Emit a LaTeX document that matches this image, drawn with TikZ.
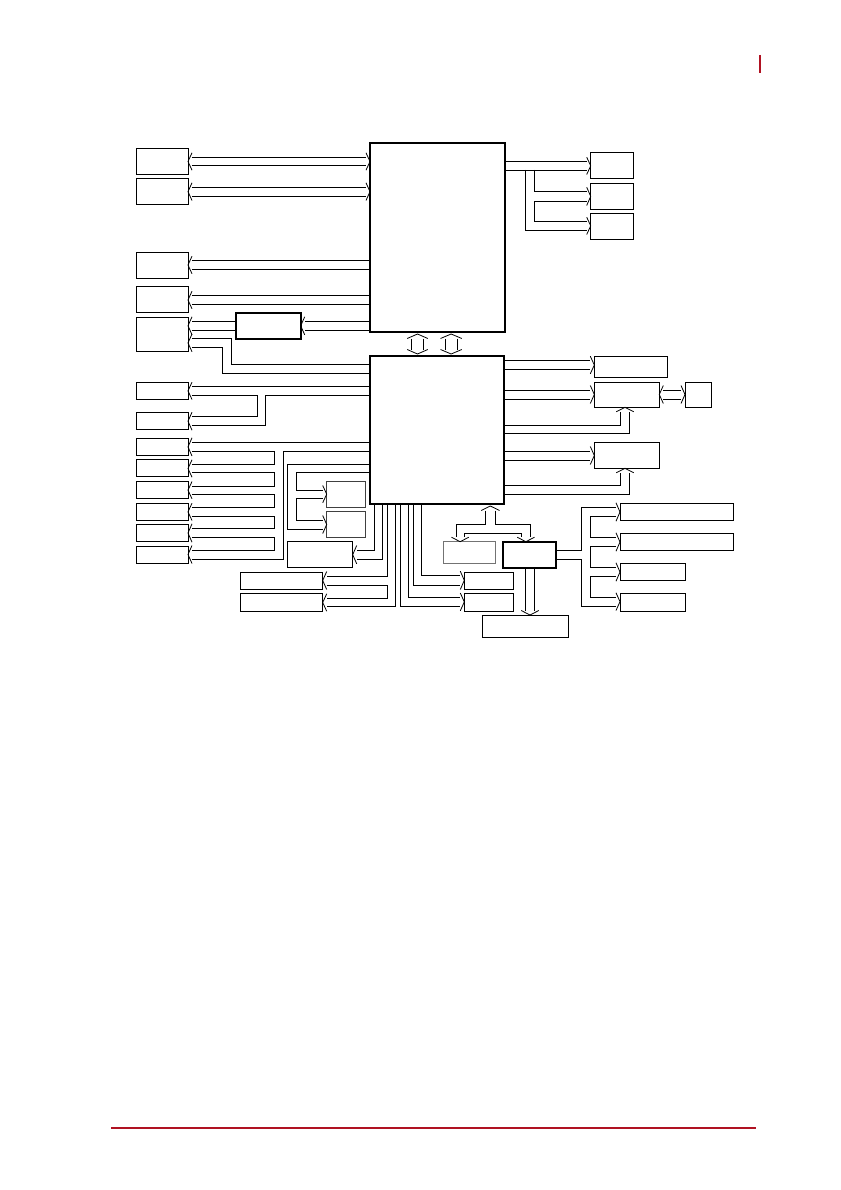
\documentclass[tikz,border=0pt]{standalone}
\usepackage{tikz}
\definecolor{adred}{RGB}{176,18,34}
\newcommand\hdL[3]{\draw[ln] ({#1+4},{#2-4.5}) -- (#1,{(#2+#3)/2}) -- ({#1+4},{#3+4.5});}
\newcommand\hdR[3]{\draw[ln] ({#1-4},{#2-4.5}) -- (#1,{(#2+#3)/2}) -- ({#1-4},{#3+4.5});}
\newcommand\hdU[3]{\draw[ln] ({#2-4.5},{#1+4.5}) -- ({(#2+#3)/2},#1) -- ({#3+4.5},{#1+4.5});}
\newcommand\hdD[3]{\draw[ln] ({#2-4.5},{#1-4.5}) -- ({(#2+#3)/2},#1) -- ({#3+4.5},{#1-4.5});}
\newcommand\bx[6][]{\node[bxs,#1,minimum width={(#4)-(#2)},minimum height={(#5)-(#3)}] (#6) at ({(#2+#4)/2},{(#3+#5)/2}) {};}
\begin{document}
\begin{tikzpicture}[x=1pt,y=-1pt,
  ln/.style={line width=0.8pt,line join=miter},
  bxs/.style={draw,line width=0.9pt,inner sep=0pt,outer sep=0pt,rectangle},
  thk/.style={line width=1.9pt},
  gry/.style={draw=black!75},
  gryl/.style={draw=black!55}]
\useasboundingbox (0,0) rectangle (840,1190);
% red page marks
\draw[adred,line width=2pt] (760,55) -- (760,73);
\draw[adred,line width=2pt] (111,1128) -- (756,1128);
% boxes
\bx[thk]{370}{143.3}{505}{332.3}{cpu}
\bx[thk]{370}{355.7}{504}{504.3}{pch}
\bx{136}{148}{188}{174}{a1}
\bx{136}{178}{188}{204}{a2}
\bx{136}{252.3}{188}{278.3}{a3}
\bx{136}{286.7}{188}{312.3}{a4}
\bx{136}{317}{188}{351}{a5}
\bx[thk]{235.7}{312.7}{300.7}{339}{m}
\bx{590.7}{152}{633}{178}{b1}
\bx{590.7}{183}{633}{209}{b2}
\bx{590.7}{213}{633}{239}{b3}
\bx{136}{382.3}{188}{399.3}{c1}
\bx{136}{412.7}{188}{429.3}{c2}
\bx{136}{438.3}{188}{455}{d1}
\bx{136}{459.3}{188}{476.7}{d2}
\bx{136}{481}{188}{498.3}{d3}
\bx{136}{503.3}{188}{520}{d4}
\bx{136}{524.3}{188}{541}{d5}
\bx{136}{546}{188}{563.3}{d6}
\bx[gry]{326.7}{481.7}{365.3}{507}{e1}
\bx[gry]{326.7}{511.7}{365.3}{537.3}{e2}
\bx{287.3}{541}{352.7}{567.3}{f}
\bx{240}{572.3}{322.7}{589}{g1}
\bx{240}{593.3}{322.7}{611}{g2}
\bx{464.3}{572.7}{513.3}{589.5}{h1}
\bx{464.3}{593.3}{513.3}{611.5}{h2}
\bx[gryl]{443.3}{541.7}{495}{563.3}{i}
\bx[thk]{503.3}{541.7}{556}{567.7}{j}
\bx{482.3}{615}{568.3}{637.3}{k}
\bx{620}{503.3}{733.3}{520}{l1}
\bx{620}{533.3}{733.3}{550}{l2}
\bx{620}{563.3}{685.7}{580}{l3}
\bx{620}{593.3}{685.7}{611.7}{l4}
\bx{594.3}{356}{667.3}{377.3}{n1}
\bx{594.3}{382.3}{659.3}{407.3}{n2}
\bx{685}{382.3}{711.7}{407.3}{n3}
\bx{594.3}{442.3}{659.3}{468.3}{n4}
% a1, a2 <-> cpu
\draw[ln] (192,157.3) -- (366,157.3); \draw[ln] (192,165.7) -- (366,165.7);
\hdL{188}{157.3}{165.7} \hdR{370}{157.3}{165.7}
\draw[ln] (192,187.3) -- (366,187.3); \draw[ln] (192,196) -- (366,196);
\hdL{188}{187.3}{196} \hdR{370}{187.3}{196}
% cpu -> a3, a4
\draw[ln] (370,260.7) -- (192,260.7); \draw[ln] (370,269.3) -- (192,269.3);
\hdL{188}{260.7}{269.3}
\draw[ln] (370,295.7) -- (192,295.7); \draw[ln] (370,304.3) -- (192,304.3);
\hdL{188}{295.7}{304.3}
% cpu -> m -> a5
\draw[ln] (370,321.3) -- (304.7,321.3); \draw[ln] (370,330.3) -- (304.7,330.3);
\hdL{300.7}{321.3}{330.3}
\draw[ln] (235.7,321.3) -- (192,321.3); \draw[ln] (235.7,330.3) -- (192,330.3);
\hdL{188}{321.3}{330.3}
% pch -> a5
\draw[ln] (370,364) -- (231,364) -- (231,338.5) -- (192,338.5);
\draw[ln] (370,373.3) -- (222.3,373.3) -- (222.3,347.3) -- (192,347.3);
\hdL{188}{338.5}{347.3}
% cpu -> b1, b2, b3
\draw[ln] (505,161.7) -- (586.7,161.7); \draw[ln] (505,170) -- (586.7,170);
\draw[ln] (525,170) -- (525,230) -- (586.7,230);
\draw[ln] (534,170) -- (534,191.7) -- (586.7,191.7);
\draw[ln] (586.7,201) -- (534,201) -- (534,221.7) -- (586.7,221.7);
\hdR{590.7}{161.7}{170} \hdR{590.7}{191.7}{201} \hdR{590.7}{221.7}{230}
% pch -> c1, c2
\draw[ln] (370,386.7) -- (192,386.7);
\draw[ln] (192,395) -- (257.7,395) -- (257.7,416.7) -- (192,416.7);
\draw[ln] (370,395) -- (265.7,395) -- (265.7,425.7) -- (192,425.7);
\hdL{188}{386.7}{395} \hdL{188}{416.7}{425.7}
% pch -> d1..d6
\draw[ln] (370,442.3) -- (192,442.3);
\draw[ln] (192,451.5) -- (274.3,451.5) -- (274.3,464.3) -- (192,464.3);
\draw[ln] (192,472.7) -- (274.3,472.7) -- (274.3,486) -- (192,486);
\draw[ln] (192,494.3) -- (274.3,494.3) -- (274.3,507.7) -- (192,507.7);
\draw[ln] (192,516) -- (274.3,516) -- (274.3,528.3) -- (192,528.3);
\draw[ln] (192,537.7) -- (274.3,537.7) -- (274.3,550) -- (192,550);
\draw[ln] (370,451.5) -- (283.3,451.5) -- (283.3,559) -- (192,559);
\hdL{188}{442.3}{451.5} \hdL{188}{464.3}{472.7} \hdL{188}{486}{494.3}
\hdL{188}{507.7}{516} \hdL{188}{528.3}{537.7} \hdL{188}{550}{559}
% pch -> e1, e2
\draw[ln] (370,464.3) -- (287.3,464.3) -- (287.3,529) -- (322.7,529);
\draw[ln] (370,472.5) -- (296.7,472.5) -- (296.7,490) -- (322.7,490);
\draw[ln] (322.7,498.3) -- (296.7,498.3) -- (296.7,520) -- (322.7,520);
\hdR{326.7}{490}{498.3} \hdR{326.7}{520}{529}
% pch -> f
\draw[ln] (374.3,504.3) -- (374.3,550) -- (356.7,550);
\draw[ln] (382.3,504.3) -- (382.3,559.3) -- (356.7,559.3);
\hdL{352.7}{550}{559.3}
% pch -> g1, g2
\draw[ln] (387.3,504.3) -- (387.3,576) -- (326.7,576);
\draw[ln] (326.7,585) -- (387.3,585) -- (387.3,598.3) -- (326.7,598.3);
\draw[ln] (395.3,504.3) -- (395.3,606.7) -- (326.7,606.7);
\hdL{322.7}{576}{585} \hdL{322.7}{598.3}{606.7}
% pch -> h1, h2
\draw[ln] (421.7,504.3) -- (421.7,575.7) -- (460.3,575.7);
\draw[ln] (413.3,504.3) -- (413.3,585) -- (460.3,585);
\draw[ln] (408.3,504.3) -- (408.3,597.5) -- (460.3,597.5);
\draw[ln] (400.3,504.3) -- (400.3,606.3) -- (460.3,606.3);
\hdR{464.3}{575.7}{585} \hdR{464.3}{597.5}{606.3}
% pch <-> i, j
\hdU{506}{485.7}{495}
\draw[ln] (485.7,510.5) -- (485.7,524.3) -- (456,524.3) -- (456,537.2);
\draw[ln] (495,510.5) -- (495,524.3) -- (530,524.3) -- (530,537.2);
\draw[ln] (464.3,537.2) -- (464.3,533.3) -- (521.7,533.3) -- (521.7,537.2);
\hdD{541.7}{456}{464.3} \hdD{541.7}{521.7}{530}
% j -> k
\draw[ln] (525.7,567.7) -- (525.7,610.5); \draw[ln] (534.3,567.7) -- (534.3,610.5);
\hdD{615}{525.7}{534.3}
% j -> l1..l4
\draw[ln] (556,550) -- (581.7,550) -- (581.7,507.3) -- (616,507.3);
\draw[ln] (556,559) -- (581.7,559) -- (581.7,606) -- (616,606);
\draw[ln] (616,516.7) -- (590.7,516.7) -- (590.7,537.3) -- (616,537.3);
\draw[ln] (616,546.7) -- (590.7,546.7) -- (590.7,567.3) -- (616,567.3);
\draw[ln] (616,576.7) -- (590.7,576.7) -- (590.7,597.3) -- (616,597.3);
\hdR{620}{507.3}{516.7} \hdR{620}{537.3}{546.7} \hdR{620}{567.3}{576.7} \hdR{620}{597.3}{606}
% pch -> n1, n2, n4
\draw[ln] (504,360.7) -- (590.3,360.7); \draw[ln] (504,369.3) -- (590.3,369.3);
\hdR{594.3}{360.7}{369.3}
\draw[ln] (504,390) -- (590.3,390); \draw[ln] (504,399) -- (590.3,399);
\hdR{594.3}{390}{399}
\draw[ln] (504,451) -- (590.3,451); \draw[ln] (504,460) -- (590.3,460);
\hdR{594.3}{451}{460}
% n2 <-> n3
\draw[ln] (663.3,390) -- (681,390); \draw[ln] (663.3,399) -- (681,399);
\hdL{659.3}{390}{399} \hdR{685}{390}{399}
% up into n2, n4
\draw[ln] (504,425) -- (620.7,425) -- (620.7,411.8);
\draw[ln] (504,433.3) -- (629.3,433.3) -- (629.3,411.8);
\hdU{407.3}{620.7}{629.3}
\draw[ln] (504,485) -- (620.7,485) -- (620.7,472.8);
\draw[ln] (504,494) -- (629.3,494) -- (629.3,472.8);
\hdU{468.3}{620.7}{629.3}
% cpu <-> pch
\draw[ln] (411.7,338.5) -- (411.7,349.5); \draw[ln] (423.3,338.5) -- (423.3,349.5);
\hdU{334}{411.7}{423.3} \hdD{354}{411.7}{423.3}
\draw[ln] (445,338.5) -- (445,349.5); \draw[ln] (457.3,338.5) -- (457.3,349.5);
\hdU{334}{445}{457.3} \hdD{354}{445}{457.3}
\end{tikzpicture}
\end{document}
